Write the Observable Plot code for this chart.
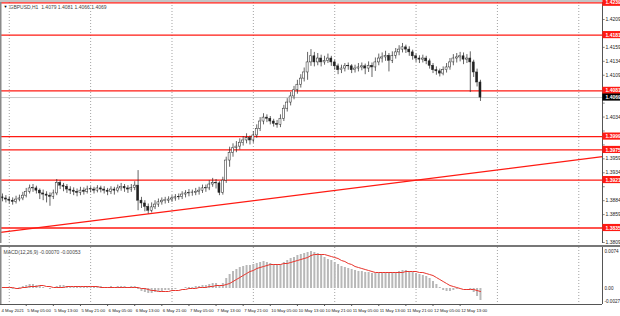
<!DOCTYPE html>
<html><head><meta charset="utf-8">
<script src="https://cdn.jsdelivr.net/npm/d3@7"></script>
<script src="https://cdn.jsdelivr.net/npm/@observablehq/plot@0.6"></script>
<style>
body{margin:0;background:#fff;}
#wrap{position:relative;width:620px;height:316px;overflow:hidden;background:#fff;}
#wrap svg{position:absolute;left:0;}
</style></head><body><div id="wrap"></div>
<script>
const title = "GBPUSD,H1  1.4079 1.4081 1.4066 1.4069";
const macdTitle = "MACD(12,26,9) -0.00070 -0.00053";
const firstOpen = 1.3890;
const closes = [
1.3888,1.3886,1.3884,1.3882,1.3886,1.3888,1.3893,1.3900,1.3906,1.3906,
1.3902,1.3897,1.3895,1.3893,1.3891,1.3897,1.3916,1.3911,1.3909,1.3904,
1.3902,1.3900,1.3898,1.3902,1.3900,1.3904,1.3904,1.3902,1.3906,1.3904,
1.3902,1.3900,1.3904,1.3902,1.3906,1.3909,1.3906,1.3904,1.3907,1.3911,
1.3884,1.3879,1.3873,1.3866,1.3872,1.3877,1.3881,1.3884,1.3884,1.3886,
1.3888,1.3890,1.3891,1.3895,1.3897,1.3898,1.3898,1.3900,1.3902,1.3906,
1.3906,1.3913,1.3916,1.3915,1.3898,1.3920,1.3956,1.3970,1.3978,1.3981,
1.3988,1.3992,1.3996,1.3992,1.4001,1.4013,1.4026,1.4033,1.4031,1.4026,
1.4022,1.4020,1.4031,1.4049,1.4060,1.4071,1.4082,1.4092,1.4103,1.4114,
1.4132,1.4143,1.4132,1.4139,1.4132,1.4135,1.4139,1.4132,1.4125,1.4118,
1.4121,1.4125,1.4125,1.4118,1.4121,1.4123,1.4125,1.4121,1.4126,1.4123,
1.4132,1.4139,1.4141,1.4144,1.4135,1.4144,1.4150,1.4155,1.4159,1.4155,
1.4150,1.4143,1.4139,1.4137,1.4139,1.4134,1.4126,1.4118,1.4116,1.4112,
1.4118,1.4123,1.4132,1.4139,1.4141,1.4143,1.4137,1.4139,1.4132,1.4114,
1.4096,1.4069];
const highs = [
1.3896,1.3893,1.3891,1.3889,1.3892,1.3894,1.3899,1.3906,1.3912,1.3913,
1.3910,1.3905,1.3903,1.3900,1.3898,1.3903,1.3922,1.3920,1.3915,1.3913,
1.3909,1.3907,1.3905,1.3908,1.3907,1.3910,1.3909,1.3908,1.3911,1.3910,
1.3909,1.3906,1.3909,1.3908,1.3912,1.3915,1.3913,1.3911,1.3913,1.3918,
1.3938,1.3890,1.3884,1.3878,1.3880,1.3884,1.3887,1.3889,1.3890,1.3891,
1.3893,1.3895,1.3896,1.3900,1.3902,1.3904,1.3903,1.3906,1.3908,1.3912,
1.3912,1.3920,1.3924,1.3922,1.3918,1.3926,1.3962,1.3980,1.3986,1.3990,
1.3995,1.3999,1.4004,1.4000,1.4008,1.4020,1.4033,1.4040,1.4038,1.4035,
1.4030,1.4028,1.4038,1.4055,1.4067,1.4078,1.4089,1.4100,1.4110,1.4122,
1.4150,1.4155,1.4150,1.4148,1.4145,1.4143,1.4147,1.4143,1.4136,1.4129,
1.4127,1.4130,1.4131,1.4128,1.4127,1.4130,1.4131,1.4129,1.4133,1.4131,
1.4140,1.4147,1.4149,1.4152,1.4148,1.4151,1.4157,1.4162,1.4166,1.4163,
1.4160,1.4154,1.4147,1.4144,1.4145,1.4143,1.4138,1.4130,1.4124,1.4120,
1.4124,1.4130,1.4139,1.4146,1.4148,1.4150,1.4149,1.4146,1.4151,1.4136,
1.4120,1.4100];
const lows = [
1.3882,1.3880,1.3878,1.3876,1.3878,1.3882,1.3884,1.3889,1.3896,1.3899,
1.3896,1.3886,1.3884,1.3880,1.3874,1.3886,1.3893,1.3904,1.3900,1.3897,
1.3895,1.3893,1.3891,1.3893,1.3894,1.3896,1.3898,1.3896,1.3898,1.3898,
1.3896,1.3893,1.3895,1.3894,1.3898,1.3901,1.3899,1.3897,1.3899,1.3902,
1.3866,1.3870,1.3864,1.3860,1.3862,1.3868,1.3872,1.3876,1.3878,1.3879,
1.3881,1.3883,1.3885,1.3886,1.3889,1.3891,1.3892,1.3893,1.3894,1.3897,
1.3899,1.3902,1.3908,1.3905,1.3893,1.3894,1.3915,1.3944,1.3962,1.3970,
1.3975,1.3982,1.3986,1.3984,1.3987,1.3996,1.4008,1.4020,1.4024,1.4020,
1.4016,1.4014,1.4015,1.4026,1.4043,1.4054,1.4065,1.4075,1.4086,1.4097,
1.4100,1.4125,1.4124,1.4126,1.4124,1.4127,1.4130,1.4125,1.4118,1.4110,
1.4112,1.4115,1.4118,1.4112,1.4113,1.4115,1.4117,1.4110,1.4114,1.4105,
1.4116,1.4126,1.4131,1.4134,1.4115,1.4130,1.4138,1.4144,1.4149,1.4148,
1.4143,1.4136,1.4132,1.4130,1.4131,1.4128,1.4120,1.4112,1.4109,1.4106,
1.4108,1.4113,1.4118,1.4126,1.4131,1.4133,1.4128,1.4130,1.4078,1.4105,
1.4088,1.4062];
const levels = [1.4239, 1.4181, 1.4081, 1.3999, 1.3975, 1.3921, 1.3835];
const trendBars = [-0.59, 177];
const trendPrices = [1.3827, 1.3963];
const lastPrice = 1.4069;
const priceTicks = [1.4209,1.4184,1.4159,1.4134,1.4109,1.4084,1.4059,1.4034,1.4009,1.3984,1.3959,1.3934,1.3909,1.3884,1.3859,1.3834,1.3809];
const firstDateLabel = "4 May 2021";
const timeLabels = ["5 May 05:00","5 May 13:00","5 May 21:00","6 May 05:00","6 May 13:00","6 May 21:00","7 May 05:00","7 May 13:00","7 May 21:00","10 May 05:00","10 May 13:00","10 May 21:00","11 May 05:00","11 May 13:00","11 May 21:00","12 May 05:00","12 May 13:00"];
const timeLabelBars = [7,15,23,31,39,47,55,63,71,79,87,95,103,111,119,127,135];
const dayStartBars = [2,26,50,74,98,122,146,170];
const macdHist = [
0.0002,0.0002,0,-0.0002,0,0.0002,0.0004,0.0006,0.0008,0.0008,
0.0006,0.0004,0.0002,0,-0.0002,0,0.0004,0.0006,0.0006,0.0004,
0.0004,0.0002,0.0002,0.0004,0.0002,0.0004,0.0004,0.0002,0.0004,0.0004,
0.0002,0.0002,0.0004,0.0002,0.0004,0.0004,0.0004,0.0002,0.0004,0.0004,
-0.0002,-0.0006,-0.0008,-0.0010,-0.0010,-0.0008,-0.0006,-0.0006,-0.0004,-0.0004,
-0.0002,-0.0002,0,0,0.0002,0.0002,0.0002,0.0004,0.0004,0.0006,
0.0006,0.0008,0.0010,0.0010,0.0006,0.0010,0.0020,0.0028,0.0034,0.0038,
0.0042,0.0044,0.0046,0.0046,0.0048,0.0050,0.0052,0.0054,0.0052,0.0050,
0.0048,0.0046,0.0048,0.0052,0.0056,0.0060,0.0062,0.0066,0.0068,0.0070,
0.0072,0.0074,0.0072,0.0070,0.0066,0.0062,0.0058,0.0056,0.0052,0.0048,
0.0044,0.0042,0.0040,0.0038,0.0036,0.0034,0.0034,0.0032,0.0032,0.0030,
0.0030,0.0030,0.0030,0.0032,0.0030,0.0032,0.0032,0.0034,0.0036,0.0036,
0.0034,0.0032,0.0030,0.0028,0.0026,0.0024,0.0020,0.0014,0.0008,0.0002,
-0.0004,-0.0006,-0.0006,-0.0004,-0.0002,0,0,0,-0.0002,-0.0008,
-0.0016,-0.0024];
const macdSignal = [
0.0002,0.0002,0.0002,0.0002,0,0,0.0002,0.0002,0.0004,0.0004,0.0004,0.0006,0.0006,0.0004,0.0004,0.0002,
0.0002,0.0002,0.0002,0.0004,0.0004,0.0004,0.0004,0.0004,0.0004,0.0004,0.0004,0.0004,0.0004,0.0002,0.0002,0.0002,0.0002,0.0002,0.0002,0.0002,0.0002,0.0002,0.0002,0.0002,
0.0002,0,0,-0.0002,-0.0004,-0.0004,-0.0006,-0.0006,-0.0006,-0.0006,-0.0004,-0.0004,-0.0004,-0.0002,-0.0002,0,
0,0,0.0002,0.0002,0.0002,0.0004,0.0004,0.0006,0.0006,
0.0006,0.0008,0.0010,0.0014,0.0018,0.0022,0.0026,0.0030,
0.0034,0.0036,0.0040,0.0042,0.0044,0.0046,0.0048,0.0048,0.0048,
0.0048,0.0050,0.0050,0.0052,0.0054,0.0056,0.0058,0.0060,0.0062,0.0066,
0.0068,0.0068,0.0068,0.0068,0.0066,0.0064,0.0062,0.0060,0.0056,
0.0054,0.0050,0.0048,0.0044,0.0042,0.0040,0.0038,0.0036,0.0034,0.0032,0.0032,0.0032,0.0032,0.0032,0.0032,
0.0032,0.0032,0.0032,0.0034,0.0034,0.0034,0.0034,0.0032,0.0032,0.0030,
0.0028,0.0026,0.0022,0.0018,0.0014,0.0010,0.0006,0.0004,0.0002,0,-0.0002,
-0.0002,-0.0002,-0.0002,-0.0004,-0.0006];
const macdTicks = [0.0074, 0, -0.0027];
const macdTickLabels = ["0.0074", "0.00", "-0.0027"];

// ---------- build ----------
const bars = closes.map((c, i) => ({i, o: i ? closes[i - 1] : firstOpen, c, h: highs[i], l: lows[i]}));
const trend = trendBars.map((b, k) => ({bar: b, price: trendPrices[k]}));
const macd = macdHist.map((v, i) => ({i, v, s: macdSignal[i]}));
const X0 = -0.59, X1 = 177, XR = 182.4;
const RED = "#ff1a12";
const FONT = "'Liberation Sans Narrow', 'Liberation Sans', Arial, sans-serif";
const boxH = 0.00064;
const boxed = levels.concat([lastPrice]);
const freeTicks = priceTicks.filter(t => boxed.every(b => Math.abs(b - t) > 0.0012));

const main = Plot.plot({
  width: 620, height: 244, marginLeft: 0, marginRight: 18, marginTop: 2, marginBottom: 1,
  x: {domain: [X0, X1], axis: null},
  y: {domain: [1.38072, 1.42395], axis: null},
  style: {background: "transparent", fontFamily: FONT, fontSize: "5px", overflow: "visible"},
  marks: [
    Plot.ruleX(dayStartBars, {stroke: "#8c8c8c", strokeDasharray: "1,2", strokeWidth: 0.8}),
    Plot.ruleY([lastPrice], {x1: X0, x2: X1, stroke: "#c8c8c8", strokeWidth: 1}),
    Plot.ruleY(levels, {x1: X0, x2: X1, stroke: RED, strokeWidth: 1.3}),
    Plot.line(trend, {x: "bar", y: "price", stroke: RED, strokeWidth: 1.3}),
    Plot.ruleX(bars, {x: "i", y1: "l", y2: "h", stroke: "#222", strokeWidth: 0.7}),
    Plot.rect(bars, {x1: d => d.i - 0.3, x2: d => d.i + 0.3, y1: "o", y2: d => (Math.abs(d.c - d.o) < 0.00005 ? d.o + 0.00006 : d.c),
      fill: d => d.c >= d.o ? "#fff" : "#222", stroke: "#222", strokeWidth: 0.5}),
    Plot.ruleX([X0], {stroke: "#8a8a8a", strokeWidth: 2}),
    Plot.ruleY([1.42395], {x1: X0, x2: X1, stroke: "#8a8a8a", strokeWidth: 1, dy: -1.5}),
    Plot.ruleX([X1], {stroke: "#555", strokeWidth: 1}),
    Plot.ruleY(priceTicks, {x1: X1, x2: X1 + 0.8, stroke: "#555", strokeWidth: 0.7}),
    Plot.text(freeTicks, {x: X1, y: d => d, text: d => d.toFixed(4), textAnchor: "start", dx: 3, fill: "#222"}),
    Plot.rect(levels, {x1: X1 + 0.1, x2: XR, y1: d => d - boxH, y2: d => d + boxH, fill: RED}),
    Plot.text(levels, {x: X1, y: d => d, text: d => d.toFixed(4), textAnchor: "start", dx: 3, fill: "#fff", fontWeight: "bold"}),
    Plot.rect([lastPrice], {x1: X1 + 0.1, x2: XR, y1: d => d - boxH, y2: d => d + boxH, fill: "#000"}),
    Plot.text([lastPrice], {x: X1, y: d => d, text: d => d.toFixed(4), textAnchor: "start", dx: 3, fill: "#fff", fontWeight: "bold"}),
    Plot.text(["\u25BC"], {frameAnchor: "top-left", dx: 3, dy: 3, fontSize: 4, fill: "#000"}),
    Plot.text([title], {frameAnchor: "top-left", textAnchor: "start", dx: 9, dy: 3, fill: "#444"})
  ]
});
main.style.top = "0px";

const sub = Plot.plot({
  width: 620, height: 72, marginLeft: 0, marginRight: 18, marginTop: 3, marginBottom: 12,
  x: {domain: [X0, X1], axis: null},
  y: {domain: [-0.0032, 0.0082], axis: null},
  style: {background: "transparent", fontFamily: FONT, fontSize: "5px", overflow: "visible"},
  marks: [
    Plot.ruleX(dayStartBars, {stroke: "#8c8c8c", strokeDasharray: "1,2", strokeWidth: 0.8}),
    Plot.ruleX(macd, {x: "i", y1: 0, y2: "v", stroke: "#b8b8b8", strokeWidth: 2}),
    Plot.line(macd, {x: "i", y: "s", stroke: "#e8342c", strokeWidth: 1}),
    Plot.ruleX([X0], {stroke: "#8a8a8a", strokeWidth: 2}),
    Plot.ruleY([0.0082], {x1: X0, x2: XR, stroke: "#777", strokeWidth: 2, dy: -1.5}),
    Plot.ruleY([-0.0032], {x1: X0, x2: X1, stroke: "#555", strokeWidth: 1}),
    Plot.ruleX([X1], {stroke: "#555", strokeWidth: 1}),
    Plot.text(macdTicks, {x: X1, y: d => d, text: (d, i) => macdTickLabels[i], textAnchor: "start", dx: 2, fill: "#222", fontSize: 4.6}),
    Plot.text([macdTitle], {frameAnchor: "top-left", textAnchor: "start", dx: 3, dy: 3, fill: "#444"}),
    Plot.ruleX(timeLabelBars, {y1: -0.0032, y2: -0.0036, stroke: "#555"}),
    Plot.text([firstDateLabel], {frameAnchor: "bottom-left", textAnchor: "start", dx: 1, dy: 7, fill: "#222", fontSize: 4.3}),
    Plot.text(timeLabels, {x: (d, i) => timeLabelBars[i], frameAnchor: "bottom", textAnchor: "start", dx: 1, dy: 7, fill: "#222", fontSize: 4.3})
  ]
});
sub.style.top = "244px";

const wrap = document.getElementById("wrap");
wrap.appendChild(main);
wrap.appendChild(sub);
</script></body></html>
